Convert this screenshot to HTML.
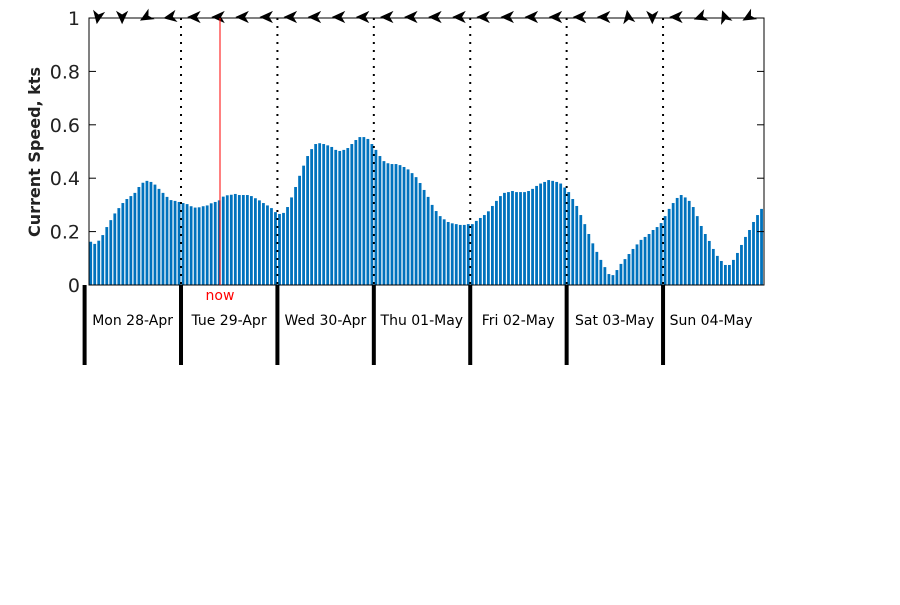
<!DOCTYPE html>
<html><head><meta charset="utf-8"><style>
body{margin:0;background:#fff;width:900px;height:600px;overflow:hidden}
svg text{font-family:"DejaVu Sans","Liberation Sans",sans-serif}
</style></head><body>
<svg id="chart" width="900" height="600" xmlns="http://www.w3.org/2000/svg">
<g id="bars"></g>
<g id="grid"></g>
<rect x="89" y="18" width="675" height="267" fill="none" stroke="#000" stroke-width="1"/>
<g id="yaxis"></g>
<text x="40" y="152" font-size="16" font-weight="bold" text-anchor="middle" transform="rotate(-90 40 152)" fill="#222">Current Speed, kts</text>
<g id="xaxis"></g>
<g id="arrows"></g>
<line x1="220" y1="18" x2="220" y2="285" stroke="#f00" stroke-width="1"/>
<text x="220" y="300" font-size="14" fill="#f00" text-anchor="middle">now</text>
</svg>
<script>
const speeds = [
.162,.154,.166,.187,.217,.243,.268,.288,.307,.322,.333,.345,.367,.383,.390,.386,.376,.360,.345,.330,.318,.315,.311,
.307,.303,.295,.290,.291,.295,.298,.306,.311,.317,.331,.336,.338,.341,.337,.337,.337,.333,.325,.317,.307,.298,.288,.273,
.266,.270,.292,.328,.367,.409,.447,.483,.509,.528,.531,.528,.523,.517,.506,.502,.506,.513,.528,.543,.554,.554,.547,.528,
.506,.483,.464,.456,.453,.453,.449,.442,.433,.419,.404,.382,.356,.330,.300,.277,.258,.246,.236,.231,.228,.225,.225,.228,
.228,.240,.251,.262,.276,.296,.315,.333,.345,.348,.352,.348,.348,.348,.352,.360,.371,.380,.386,.393,.390,.386,.380,.365,
.348,.322,.296,.262,.228,.191,.156,.124,.094,.067,.041,.037,.056,.079,.097,.116,.135,.152,.169,.180,.191,.206,.217,.232,
.258,.285,.307,.326,.337,.328,.315,.292,.258,.221,.191,.165,.135,.109,.090,.075,.075,.094,.120,.150,.180,.206,.236,.262,.285];
const dayLabels = ["Mon 28-Apr","Tue 29-Apr","Wed 30-Apr","Thu 01-May","Fri 02-May","Sat 03-May","Sun 04-May"];
const yTicks = [0,0.2,0.4,0.6,0.8,1];
const yTickLabels = ["0","0.2","0.4","0.6","0.8","1"];
const arrowDirs = [100,90,150,170,180,180,180,180,180,180,180,180,180,180,180,180,180,180,180,180,180,180,-100,90,180,160,-110,150];

const NS="http://www.w3.org/2000/svg";
const DAY0=84.6, HOUR=4.017, FIRST=90.7;
const xBar = i => FIRST + i*HOUR;
const xDay = d => DAY0 + d*24*HOUR;
const yS = v => 285 - v*267;
function mk(tag, attrs, parent){const e=document.createElementNS(NS,tag);for(const k in attrs)e.setAttribute(k,attrs[k]);parent.appendChild(e);return e;}

const gb=document.getElementById('bars');
speeds.forEach((v,i)=>{
  const r=mk('rect',{x:xBar(i)-1.4,y:yS(v),width:2.8,height:285-yS(v),fill:'#0072bd'},gb);
  
  
});

const gg=document.getElementById('grid'), gx=document.getElementById('xaxis');
dayLabels.forEach((lab,d)=>{
  const x=xDay(d);
  if(d>0){
    const l=mk('line',{x1:x,y1:18,x2:x,y2:285,stroke:'#000','stroke-width':2,'stroke-dasharray':'2 6'},gg);
    
    
  }
  const t=mk('line',{x1:x,y1:285,x2:x,y2:365,stroke:'#000','stroke-width':4},gx);
  
  
  const tx=mk('text',{x:x+48,y:325,'font-size':14,'text-anchor':'middle',fill:'#000'},gx);
  tx.textContent=lab;
  
  
});

const gy=document.getElementById('yaxis');
yTicks.forEach((v,i)=>{
  const y=yS(v);
  const a=mk('line',{x1:89,y1:y,x2:96,y2:y,stroke:'#000'},gy);
  
  
  const b=mk('line',{x1:757,y1:y,x2:764,y2:y,stroke:'#000'},gy);
  
  
  const t=mk('text',{x:80,y:y+7,'font-size':19,'text-anchor':'end',fill:'#222'},gy);
  t.textContent=yTickLabels[i];
  
  
});

const ga=document.getElementById('arrows');
arrowDirs.forEach((ang,k)=>{
  const x=98+k*24.1;
  const p=mk('path',{d:'M6,0 L-5,-5 L-2,0 L-5,5 Z',fill:'#000',stroke:'#000','stroke-width':1,transform:`translate(${x},17) rotate(${ang})`},ga);
  
  
});
</script>
</body></html>
